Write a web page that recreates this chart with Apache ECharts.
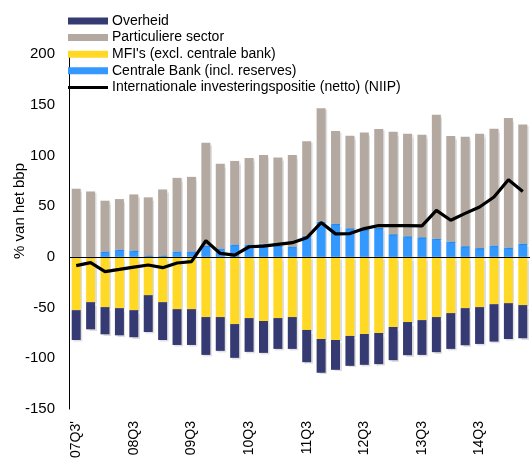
<!DOCTYPE html>
<html>
<head>
<meta charset="utf-8">
<script src="https://cdn.jsdelivr.net/npm/echarts@6/dist/echarts.min.js"></script>
<style>
html,body{margin:0;padding:0;background:#fff;}
#c{width:530px;height:461px;}
</style>
</head>
<body>
<div id="c"></div>
<script>
var categories = ["07Q3'","07Q4","08Q1","08Q2","08Q3","08Q4","09Q1","09Q2","09Q3","09Q4",
  "10Q1","10Q2","10Q3","10Q4","11Q1","11Q2","11Q3","11Q4","12Q1","12Q2","12Q3","12Q4",
  "13Q1","13Q2","13Q3","13Q4","14Q1","14Q2","14Q3","14Q4","15Q1","15Q2"];

var overheid = [-29.4,-26.8,-26.8,-26.8,-26.7,-36.3,-37.3,-35.3,-35.3,-37.3,-33.3,-33.3,-33.3,-31.4,-30.4,-31.4,
  -31.8,-33.3,-29.4,-29.5,-30.4,-30.7,-32.7,-32.7,-34.3,-34.6,-35.3,-36.6,-36.3,-36.9,-35.3,-32.7];
var particuliere = [67.2,64.5,50.0,49.7,55.2,57.2,65.0,72.5,73.5,101.6,83.4,82.3,85.2,87.6,86.9,90.2,
  93.1,111.8,91.2,91.1,95.4,97.4,101.0,101.0,101.0,121.9,103.9,107.8,112.7,115.0,127.5,117.4];
var mfi = [-52.5,-44.6,-49.5,-50.5,-52.5,-37.7,-44.6,-51.5,-51.5,-59.3,-59.3,-66.2,-60.3,-63.2,-60.3,-59.3,
  -72.0,-80.9,-81.9,-77.9,-76.0,-75.0,-69.1,-64.2,-62.3,-59.3,-55.4,-50.5,-49.5,-46.6,-45.6,-47.5];
var centrale = [0,0,5.4,7.3,6.4,1.5,1.5,5.4,5.4,11.0,8.3,12.3,12.3,12.9,11.0,10.3,
  20.8,34.8,32.8,28.3,27.3,28.6,22.4,20.4,19.4,18.1,15.2,10.6,8.7,11.3,9.3,13.2];
var niip = [-8.6,-5.7,-14.5,-12.3,-10.0,-8.0,-10.6,-6.0,-4.7,15.9,3.4,1.8,10.0,10.6,12.3,14.0,
  18.8,33.8,22.7,23.0,27.9,30.9,30.9,30.9,30.6,45.9,36.1,42.9,49.2,59.0,76.0,64.5];
var yTicks = {min:-150, max:200, interval:50};

var names = ["Overheid","Particuliere sector","MFI's (excl. centrale bank)","Centrale Bank (incl. reserves)","Internationale investeringspositie (netto) (NIIP)"];
var colors = {navy:"#363a73", gray:"#b3a9a0", yellow:"#ffd926", blue:"#3399ff"};
var font = "Arial, 'Liberation Sans', sans-serif";

function barSeries(name, data, color){
  return {
    name:name, type:'bar', stack:'s', data:data, barWidth:9,
    itemStyle:{color:color, shadowColor:'rgba(0,0,0,0.13)', shadowOffsetX:1.5, shadowOffsetY:1.5, shadowBlur:1},
    emphasis:{disabled:true}
  };
}

var legendData = names.map(function(n, i){
  if (i === 4) return {name:n, icon:'path://M0,0 L40,0 L40,3 L0,3 Z', itemStyle:{color:'#000'}};
  return {name:n, icon:'rect'};
});

var chart = echarts.init(document.getElementById('c'), null, {renderer:'canvas'});
chart.setOption({
  animation:false,
  backgroundColor:'#fff',
  textStyle:{fontFamily:font},
  grid:{left:69, top:54, width:463, height:357, containLabel:false},
  legend:{
    data:legendData, orient:'vertical', left:68, top:14, padding:0, itemWidth:40, itemHeight:7, itemGap:2.6,
    textStyle:{fontSize:14, color:'#000', fontFamily:font, padding:[0,0,0,-1]},
    selectedMode:false
  },
  xAxis:{
    type:'category', data:categories,
    axisLine:{show:false, onZero:false}, axisTick:{show:false},
    axisLabel:{interval:3, rotate:90, fontSize:14, color:'#000', margin:12, fontFamily:font}
  },
  yAxis:{
    type:'value', min:yTicks.min, max:yTicks.max, interval:yTicks.interval,
    axisLine:{show:true, lineStyle:{color:'#000', width:1}}, axisTick:{show:false},
    splitLine:{show:false},
    axisLabel:{fontSize:15, color:'#000', margin:14, fontFamily:font}
  },
  graphic:[{
    type:'text', left:12, top:163, rotation:Math.PI/2,
    style:{text:'% van het bbp', fontSize:15, fill:'#000', fontFamily:font}
  }],
  series:[
    barSeries(names[3], centrale, colors.blue),
    barSeries(names[2], mfi, colors.yellow),
    barSeries(names[1], particuliere, colors.gray),
    barSeries(names[0], overheid, colors.navy),
    {
      name:names[4], type:'line', data:niip, symbol:'none', showSymbol:false,
      lineStyle:{color:'#000', width:3.2}, itemStyle:{color:'#000'}, z:5,
      markLine:{silent:true, symbol:'none', label:{show:false},
        lineStyle:{color:'#000', width:1, type:'solid'}, data:[{yAxis:0}]}
    }
  ]
});
</script>
</body>
</html>
